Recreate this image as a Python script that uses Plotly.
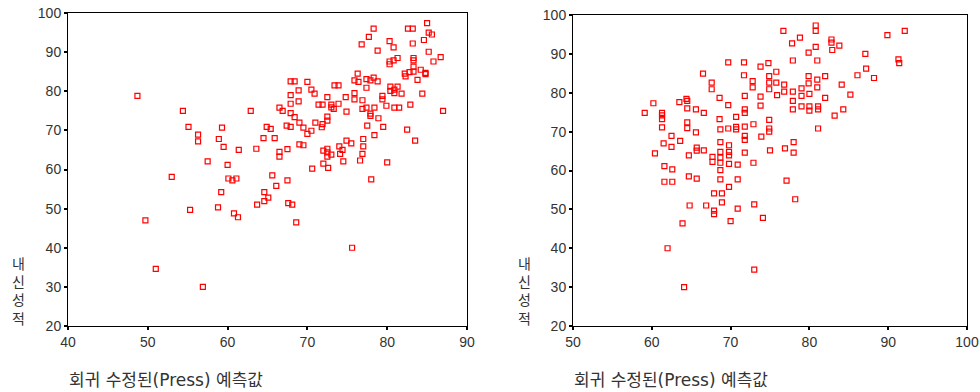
import plotly.graph_objects as go

# Left panel: predicted values vs 내신성적
left_pred = [
    48.7, 54.4, 55.1, 56.3, 56.3, 57.5, 53.0, 59.3, 58.9, 59.5,
    61.4, 60.0, 60.1, 60.6, 61.1, 59.2, 62.9, 63.6, 64.5, 64.9,
    65.4, 65.9, 65.6, 66.1, 64.6, 65.1, 66.5, 66.9, 66.5, 66.5,
    67.5, 67.5, 67.4, 67.9, 67.9, 67.9, 67.9, 67.9, 68.4, 68.4,
    68.9, 68.9, 69.0, 69.0, 69.5, 69.5, 70.0, 70.0, 70.5, 70.5,
    70.9, 71.0, 70.6, 71.4, 71.9, 71.8, 71.9, 72.5, 72.5, 72.5,
    73.0, 73.0, 73.3, 73.4, 73.9, 73.9, 72.0, 72.5, 72.5, 72.5,
    73.0, 72.0, 72.6, 74.0, 74.1, 74.4, 74.5, 74.8, 74.9, 74.9,
    75.5, 75.9, 75.9, 75.9, 76.3, 76.4, 76.8, 76.9, 76.9, 77.0,
    77.0, 76.9, 76.6, 77.4, 77.4, 77.4, 77.7, 77.9, 77.9, 77.9,
    77.5, 78.3, 78.3, 78.4, 78.4, 78.0, 78.8, 78.8, 78.9, 79.4,
    79.4, 79.5, 79.9, 80.0, 80.3, 80.8, 80.3, 80.3, 80.8, 81.3,
    80.4, 80.4, 80.9, 80.9, 81.3, 80.9, 81.5, 81.8, 82.2, 82.3,
    82.6, 83.2, 83.2, 82.8, 83.3, 83.3, 83.3, 83.3, 82.9, 82.5,
    83.5, 83.8, 84.2, 84.4, 84.6, 84.8, 84.8, 85.0, 85.2, 85.6,
    85.2, 85.8, 86.7, 87.0,
    49.7, 51.0, 56.9, 55.3, 58.8, 60.8, 61.3, 63.7, 64.6, 67.6,
    68.1, 68.6, 75.6,
]
left_grade = [
    78.8, 75.0, 70.9, 68.9, 67.2, 62.1, 58.1, 70.7, 67.8, 65.8,
    65.0, 61.2, 57.7, 57.2, 57.7, 54.2, 75.0, 65.3, 68.0, 70.9,
    70.4, 68.0, 58.5, 55.8, 54.2, 52.8, 75.8, 75.0, 64.5, 63.3,
    65.2, 57.2, 71.2, 70.9, 74.4, 76.8, 79.0, 82.5, 82.5, 73.4,
    80.2, 77.4, 72.0, 66.4, 66.2, 70.7, 82.4, 69.1, 80.4, 69.9,
    79.4, 72.0, 60.2, 76.6, 76.6, 70.8, 71.6, 78.5, 73.5, 72.5,
    76.6, 75.9, 75.5, 81.5, 81.5, 76.8, 64.8, 65.3, 64.4, 63.3,
    63.8, 61.5, 60.4, 65.9, 64.0, 65.0, 62.1, 78.5, 74.8, 67.4,
    66.7, 82.8, 79.5, 77.9, 84.5, 82.4, 92.0, 77.7, 75.5, 67.8,
    65.9, 64.0, 62.3, 83.1, 80.9, 75.8, 93.9, 82.8, 74.3, 73.7,
    71.2, 96.0, 83.5, 75.8, 68.8, 57.5, 82.5, 90.4, 73.1, 78.8,
    77.9, 70.9, 76.3, 61.8, 92.8, 91.2, 87.6, 86.9, 87.9, 88.5,
    81.2, 80.1, 80.4, 79.5, 81.2, 75.8, 75.8, 79.4, 84.5, 83.8,
    96.0, 96.0, 92.2, 84.9, 88.5, 87.9, 86.3, 85.0, 76.6, 70.2,
    67.4, 82.9, 85.5, 79.4, 93.1, 84.7, 84.4, 97.4, 95.0, 94.5,
    90.1, 87.6, 88.7, 75.0,
    47.0, 34.6, 30.0, 49.7, 50.3, 48.8, 47.8, 51.0, 51.9, 51.4,
    51.0, 46.5, 40.0,
]

# Right panel
right_pred = [
    59.1, 60.2, 60.4, 61.3, 61.3, 61.3, 61.3, 61.6, 61.6, 61.5,
    62.5, 62.5, 62.6, 62.6, 63.5, 63.6, 64.4, 64.5, 64.5, 64.5,
    64.5, 64.7, 64.7, 65.6, 65.6, 65.7, 65.7, 65.7, 66.5, 66.6,
    66.6, 67.6, 67.6, 67.7, 67.7, 67.9, 68.6, 68.6, 68.7, 68.7,
    68.7, 68.7, 68.7, 68.7, 68.7, 68.9, 69.7, 69.7, 69.7, 69.8,
    69.8, 69.8, 69.8, 69.8, 70.7, 70.7, 70.7, 70.9, 70.9, 71.7,
    71.7, 71.8, 71.8, 71.8, 71.8, 71.8, 71.8, 71.8, 72.8, 72.8,
    72.9, 72.9, 73.8, 73.8, 73.8, 73.9, 74.8, 74.9, 74.9, 74.9,
    74.9, 74.9, 74.9, 75.0, 75.8, 75.8, 75.9, 76.7, 76.8, 76.8,
    76.9, 77.1, 77.8, 77.9, 77.9, 77.9, 77.9, 78.0, 78.0, 78.2,
    78.8, 79.0, 79.0, 79.0, 79.9, 79.9, 79.9, 80.0, 80.0, 80.0,
    80.8, 80.8, 80.8, 81.0, 81.0, 81.0, 81.1, 81.1, 81.1, 82.0,
    82.0, 82.8, 82.8, 82.9, 83.2, 83.8, 84.1, 84.3, 85.2, 86.1,
    87.1, 87.2, 88.2, 89.9, 91.3, 91.4, 92.1,
    64.8, 63.9, 62.0, 64.1, 66.9, 67.9, 67.9, 68.9, 70.0, 70.9,
    73.0, 74.1, 73.0,
]
right_grade = [
    74.8, 77.3, 64.4, 74.8, 74.2, 73.2, 71.1, 61.1, 57.1, 67.0,
    68.9, 66.1, 60.3, 57.1, 77.6, 67.6, 78.4, 77.9, 76.0, 72.4,
    70.9, 63.9, 58.5, 75.7, 69.8, 65.9, 65.1, 57.9, 84.9, 74.8,
    65.2, 82.6, 80.9, 63.5, 62.2, 54.1, 78.7, 73.2, 70.6, 67.3,
    64.8, 63.3, 62.0, 60.1, 57.7, 54.1, 87.8, 76.8, 70.8, 66.5,
    64.8, 63.9, 61.7, 55.8, 73.8, 71.2, 70.6, 61.5, 57.7, 87.8,
    84.5, 79.2, 75.7, 74.8, 71.3, 68.9, 67.9, 64.6, 83.0, 81.4,
    71.9, 62.0, 86.7, 79.0, 76.7, 68.7, 87.6, 84.3, 82.6, 80.9,
    73.0, 70.8, 70.0, 65.2, 85.4, 82.6, 79.4, 95.9, 82.1, 80.3,
    65.7, 57.4, 92.7, 88.3, 80.3, 77.9, 75.7, 67.3, 64.6, 52.6,
    94.2, 81.1, 79.2, 76.5, 90.3, 84.3, 82.4, 79.7, 76.5, 75.4,
    97.3, 95.9, 91.8, 88.3, 83.4, 81.4, 76.5, 75.7, 70.8, 84.3,
    78.7, 93.7, 92.9, 91.0, 74.1, 92.1, 82.1, 75.7, 79.5, 84.5,
    90.0, 86.2, 83.8, 94.8, 88.6, 87.6, 95.9,
    51.0, 46.4, 40.0, 30.0, 51.0, 49.7, 48.8, 51.8, 47.0, 50.2,
    51.3, 47.8, 34.5,
]
assert len(left_pred) == len(left_grade)
assert len(right_pred) == len(right_grade)

x_title = "회귀 수정된(Press) 예측값"
y_title = "내신성적"
left_xticks = [40, 50, 60, 70, 80, 90]
right_xticks = [50, 60, 70, 80, 90, 100]
y_ticks = [20, 30, 40, 50, 60, 70, 80, 90, 100]

# body margin is removed by the post_script below, so the figure fills the window
W, H = 980, 392


def px_x(p):
    return p / W


def px_y(p):
    return 1 - p / H


marker = dict(symbol="square-open", size=5, color="#ff0000", line=dict(width=1.2, color="#ff0000"))

fig = go.Figure()
fig.add_trace(go.Scatter(x=left_pred, y=left_grade, mode="markers", marker=marker,
                         xaxis="x", yaxis="y", showlegend=False, cliponaxis=False))
fig.add_trace(go.Scatter(x=right_pred, y=right_grade, mode="markers", marker=marker,
                         xaxis="x2", yaxis="y2", showlegend=False, cliponaxis=False))

tickfont = dict(family="Liberation Sans, Arial, sans-serif", size=14, color="#333333")
common = dict(showline=True, mirror=True, linecolor="black", linewidth=1,
              showgrid=False, zeroline=False, ticks="outside", ticklen=3,
              tickwidth=2, tickcolor="black", tickfont=tickfont, automargin=False,
              ticklabeloverflow="allow")

fig.update_layout(
    width=W, height=H,
    margin=dict(l=0, r=0, t=0, b=0, autoexpand=False),
    plot_bgcolor="white", paper_bgcolor="white",
    xaxis=dict(domain=[px_x(68), px_x(467)], range=[40, 90], tickvals=left_xticks,
               anchor="y", **common),
    yaxis=dict(domain=[px_y(326), px_y(13)], range=[20, 100], tickvals=y_ticks,
               anchor="x", **common),
    xaxis2=dict(domain=[px_x(573), px_x(967)], range=[50, 100], tickvals=right_xticks,
                anchor="y2", **common),
    yaxis2=dict(domain=[px_y(326), px_y(15)], range=[20, 100], tickvals=y_ticks,
                anchor="x2", **common),
)

kfont = dict(family="DejaVu Sans, Noto Sans CJK KR", size=17, color="#333333")
vfont = dict(family="Noto Sans CJK KR", size=14, color="#333333")
for xpx in (68, 573):
    fig.add_annotation(x=px_x(xpx), y=px_y(380), xref="paper", yref="paper",
                       text=x_title, showarrow=False, xanchor="left", yanchor="middle",
                       font=kfont, borderpad=0)
for xpx in (18, 524):
    fig.add_annotation(x=px_x(xpx), y=px_y(329), xref="paper", yref="paper",
                       text="<br>".join(list(y_title)), showarrow=False,
                       xanchor="center", yanchor="bottom", font=vfont, borderpad=0)

fig.write_html("out.html",
               config={"displayModeBar": False},
               post_script="document.body.style.margin='0px';document.body.style.overflow='hidden';")
